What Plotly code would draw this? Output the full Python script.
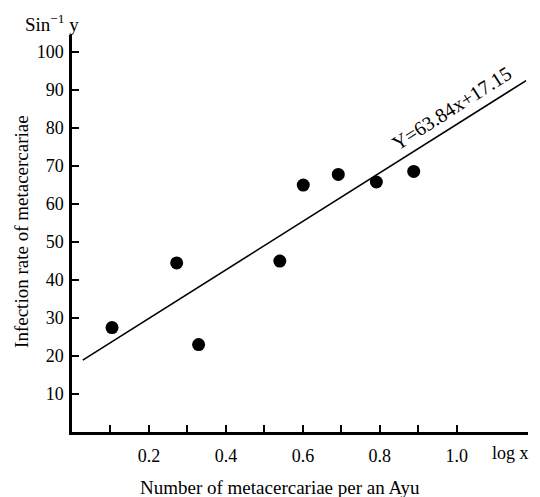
import plotly.graph_objects as go

# Data
log_x = [0.104, 0.272, 0.329, 0.540, 0.601, 0.692, 0.791, 0.888]
asin_y = [27.5, 44.5, 23.0, 45.0, 65.0, 67.8, 65.8, 68.6]

slope = 63.84
intercept = 17.15
line_x = [0.028, 1.18]
line_y = [slope * v + intercept for v in line_x]

x_tickvals = [0.1, 0.2, 0.3, 0.4, 0.5, 0.6, 0.7, 0.8, 0.9, 1.0]
x_ticktext = ["", "0.2", "", "0.4", "", "0.6", "", "0.8", "", "1.0"]
y_tickvals = [10, 20, 30, 40, 50, 60, 70, 80, 90, 100]
y_ticktext = ["10", "20", "30", "40", "50", "60", "70", "80", "90", "100"]

FONT = "Liberation Serif"

fig = go.Figure()
fig.add_trace(go.Scatter(x=line_x, y=line_y, mode="lines",
                         line=dict(color="black", width=1.6),
                         showlegend=False, hoverinfo="skip"))
fig.add_trace(go.Scatter(x=log_x, y=asin_y, mode="markers",
                         marker=dict(color="black", size=13),
                         showlegend=False))

fig.update_layout(
    width=540, height=497,
    margin=dict(l=72, r=12, t=35, b=65),
    paper_bgcolor="white", plot_bgcolor="white",
    font=dict(family=FONT, color="black", size=16),
    xaxis=dict(range=[0, 1.185], showgrid=False, zeroline=False,
               showline=True, linecolor="black", linewidth=2.5,
               ticks="inside", ticklen=7, tickwidth=1.5, tickcolor="black",
               tickvals=x_tickvals, ticktext=x_ticktext,
               tickfont=dict(family=FONT, size=18),
               ticklabelstandoff=6, automargin=False),
    yaxis=dict(range=[0, 104.5], showgrid=False, zeroline=False,
               showline=True, linecolor="black", linewidth=2.5,
               ticks="inside", ticklen=7, tickwidth=1.5, tickcolor="black",
               tickvals=y_tickvals, ticktext=y_ticktext,
               tickfont=dict(family=FONT, size=18),
               ticklabelstandoff=2, automargin=False),
)

# axis titles
fig.add_annotation(x=0.456, y=0, xref="paper", yref="paper",
                   xanchor="center", yanchor="middle", yshift=-55,
                   text="Number of metacercariae per an Ayu", showarrow=False,
                   font=dict(family=FONT, size=19))
fig.add_annotation(x=0, y=0.504, xref="paper", yref="paper",
                   xanchor="center", yanchor="middle", xshift=-50,
                   text="Infection rate of metacercariae", showarrow=False,
                   textangle=-90, font=dict(family=FONT, size=19))

fig.add_annotation(x=0, y=1, xref="paper", yref="paper",
                   xanchor="center", yanchor="middle", xshift=-20, yshift=12,
                   text="Sin<sup>−1</sup> y", showarrow=False,
                   font=dict(family=FONT, size=19))
fig.add_annotation(x=1.14, y=0, xref="x", yref="paper",
                   xanchor="center", yanchor="middle", yshift=-21,
                   text="log x", showarrow=False,
                   font=dict(family=FONT, size=18))
fig.add_annotation(x=0.987, y=85.3, xref="x", yref="y",
                   xanchor="center", yanchor="middle",
                   text="Y=63.84x+17.15", showarrow=False, textangle=-32.6,
                   font=dict(family=FONT, size=20))

fig.write_html("out.html", config={"displayModeBar": False},
               post_script="document.body.style.margin='0px';document.body.style.overflow='hidden';")
